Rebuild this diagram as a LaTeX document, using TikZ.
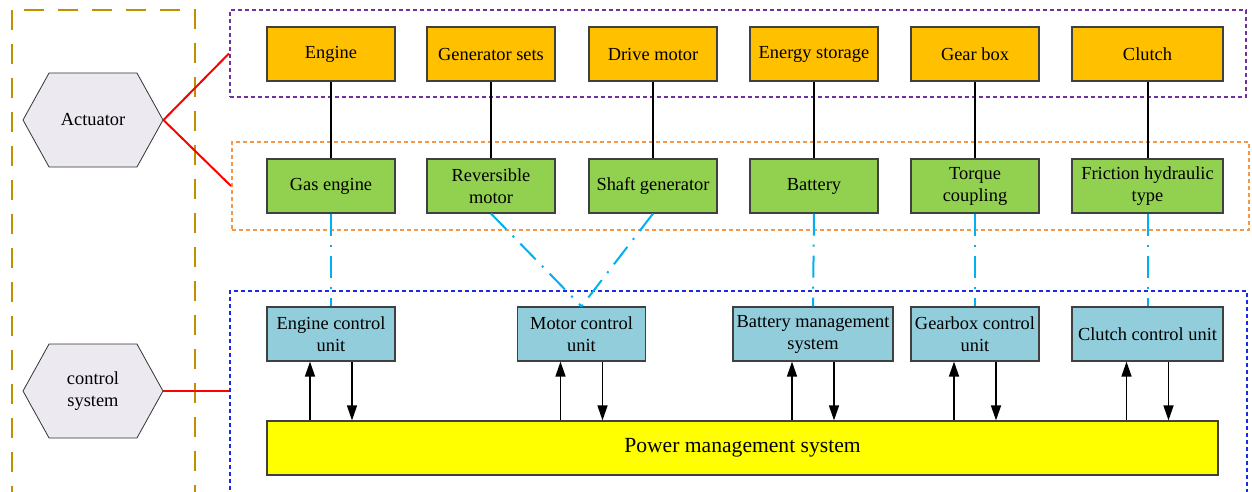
\documentclass[tikz,border=0pt]{standalone}
\usepackage{fontspec}
\setmainfont{Liberation Serif}
\definecolor{PMSorange}{HTML}{FFC000}
\definecolor{PMSgreen}{HTML}{92D050}
\definecolor{PMSblue}{HTML}{92CDDC}
\definecolor{PMSyellow}{HTML}{FFFF00}
\definecolor{PMSlilac}{HTML}{ECE9F1}
\definecolor{PMScyan}{HTML}{00B0F0}
\definecolor{PMSgold}{HTML}{BF9000}
\definecolor{PMSpurple}{HTML}{7030A0}
\definecolor{PMSpeach}{HTML}{F79646}
\definecolor{PMSnavy}{HTML}{1A2BE6}
\usetikzlibrary{arrows.meta, positioning, shapes.symbols, calc}

\begin{document}
\begin{tikzpicture}[x=0.5pt, y=-0.5pt,
   box/.style={draw=black!75, line width=0.6pt, minimum width=64pt,
      minimum height=27pt, align=center, inner sep=1pt,
      font=\fontsize{9.2}{11}\selectfont},
   hexa/.style={signal, signal to=east and west, signal pointer angle=122,
      draw=black!80, fill=PMSlilac, minimum width=70pt, minimum height=47pt,
      align=center, inner sep=1pt, font=\fontsize{9.2}{11}\selectfont},
   grp/.style={line width=1pt, dash pattern=on 2pt off 1.5pt, inner sep=0pt},
   link/.style={red, line width=1pt},
   dashdot/.style={PMScyan, line width=1pt,
      dash pattern=on 11pt off 4.5pt on 1pt off 4.5pt},
   updown/.style={-{Triangle[length=7.5pt, width=5pt]}, line width=0.75pt}]
   \useasboundingbox (0,0) rectangle (1252,492);
   % Outer dashed frame
   \draw[PMSgold, line width=1.2pt, dash pattern=on 10pt off 7pt]
      (12,10) rectangle (195,540);
   % Group frames
   \node[grp, draw=PMSpurple, minimum width=508pt, minimum height=43.5pt]
      (actgrp) at (738,53.5) {};
   \node[grp, draw=PMSpeach, minimum width=508.5pt, minimum height=44pt]
      (devgrp) at (740.5,186) {};
   \node[grp, draw=PMSnavy, minimum width=508.5pt, minimum height=124.5pt]
      (ctlgrp) at (738.5,415.5) {};
   % Left labels
   \node[hexa] (act) at (93,120) {Actuator};
   \node[hexa] (ctl) at (93,391) {control\\system};
   \draw[link] (act.east) -- (actgrp.west);
   \draw[link] (act.east) -- (devgrp.west);
   \draw[link] (ctl.east) -- (ctl.east -| ctlgrp.west);
   % Actuators
   \node[box, fill=PMSorange] (eng) at (331,54) {Engine};
   \node[box, fill=PMSorange] (gen) at (491,54) {Generator sets};
   \node[box, fill=PMSorange] (drv) at (653,54) {Drive motor};
   \node[box, fill=PMSorange] (sto) at (814,54) {Energy storage};
   \node[box, fill=PMSorange] (gbx) at (975,54) {Gear box};
   \node[box, fill=PMSorange, minimum width=75.5pt] (clu) at (1147.5,54) {Clutch};
   % Device types
   \node[box, fill=PMSgreen] (gas) at (331,186) {Gas engine};
   \node[box, fill=PMSgreen] (rev) at (491,186) {Reversible\\motor};
   \node[box, fill=PMSgreen] (sft) at (653,186) {Shaft generator};
   \node[box, fill=PMSgreen] (bat) at (814,186) {Battery};
   \node[box, fill=PMSgreen] (trq) at (975,186) {Torque\\coupling};
   \node[box, fill=PMSgreen, minimum width=75.5pt] (fri) at (1147.5,186)
      {Friction hydraulic\\type};
   \foreach \a/\b in {eng/gas, gen/rev, drv/sft, sto/bat, gbx/trq, clu/fri}
      \draw[line width=1pt] (\a) -- (\b);
   % Control units
   \node[box, fill=PMSblue] (ecu) at (331,334) {Engine control\\unit};
   \node[box, fill=PMSblue] (mcu) at (581.5,334) {Motor control\\unit};
   \node[box, fill=PMSblue, minimum width=80pt] (bms) at (813,334)
      {Battery management\\system};
   \node[box, fill=PMSblue] (gcu) at (975,334) {Gearbox control\\unit};
   \node[box, fill=PMSblue, minimum width=75.5pt] (ccu) at (1147.5,334)
      {Clutch control unit};
   \foreach \a/\b in {gas/ecu, rev/mcu, sft/mcu, bat/bms, trq/gcu, fri/ccu}
      \draw[dashdot] (\a.south) -- (\b.north);
   % Power management
   \node[box, fill=PMSyellow, minimum width=475.5pt,
      font=\fontsize{10.8}{13}\selectfont] (pms) at (742.5,448)
      {Power management system};
   \foreach \u in {ecu, mcu, bms, gcu, ccu}{
      \draw[updown] ($(\u.south |- pms.north)+(-21,0)$) -- ($(\u.south)+(-21,0)$);
      \draw[updown] ($(\u.south)+(21,0)$) -- ($(\u.south |- pms.north)+(21,0)$);
   }
\end{tikzpicture}
\end{document}
